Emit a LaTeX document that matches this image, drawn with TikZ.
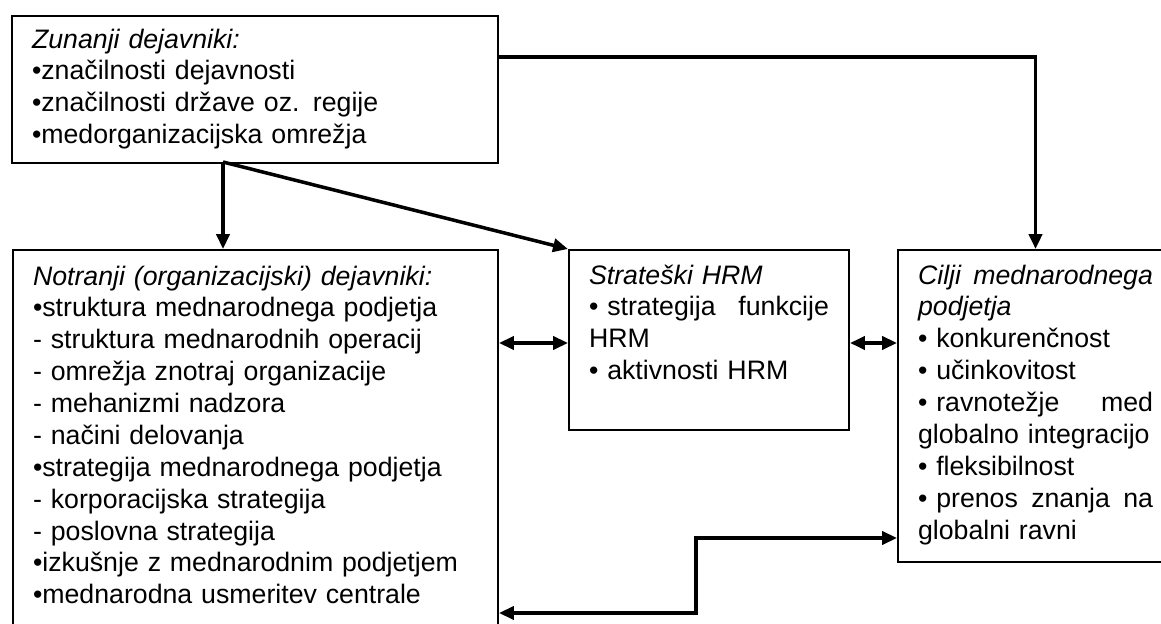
\documentclass[tikz,border=0pt]{standalone}
\usepackage{fontspec}
\setmainfont{Liberation Sans}
\usetikzlibrary{arrows.meta, positioning}

\begin{document}
\begin{tikzpicture}[x=0.02cm, y=-0.02cm,
    font=\fontsize{15.2pt}{18.14pt}\selectfont,
    box/.style={rectangle, draw, line width=1.2pt, anchor=north west, align=left, inner xsep=0.4cm, inner ysep=0pt},
    link/.style={-{Triangle[length=8.5pt, width=7.5pt]}, line width=2pt},
    twoway/.style={{Triangle[length=8.5pt, width=7.5pt]}-{Triangle[length=8.5pt, width=7.5pt]}, line width=2pt}]
    \useasboundingbox (0,0) rectangle (1161,624);
    \clip (0,0) rectangle (1161,624);

    % External factors
    \node[box, text width=8.92cm, text height=0.64cm, text depth=2.3cm] (zunanji) at (11,15)
        {\textit{Zunanji dejavniki:}\\
         •značilnosti dejavnosti\\
         •značilnosti države oz. regije\\
         •medorganizacijska omrežja};

    % Internal factors
    \node[box, text width=8.9cm, text height=0.7cm, text depth=7.12cm] (notranji) at (12,249)
        {\textit{Notranji (organizacijski) dejavniki:}\\
         •struktura mednarodnega podjetja\\
         - struktura mednarodnih operacij\\
         - omrežja znotraj organizacije\\
         - mehanizmi nadzora\\
         - načini delovanja\\
         •strategija mednarodnega podjetja\\
         - korporacijska strategija\\
         - poslovna strategija\\
         •izkušnje z mednarodnim podjetjem\\
         •mednarodna usmeritev centrale};

    % Strategic HRM
    \node[box, text width=4.8cm, text height=0.68cm, text depth=2.92cm] (strateski) at (568,249)
        {\textit{Strateški HRM}\\
         • strategija \hfill funkcije\\
         HRM\\
         • aktivnosti HRM};

    % Goals
    \node[box, text width=4.7cm, text height=0.68cm, text depth=5.56cm] (cilji) at (897,249)
        {\textit{Cilji \hfill mednarodnega}\\
         \textit{podjetja}\\
         • konkurenčnost\\
         • učinkovitost\\
         • ravnotežje \hfill med\\
         globalno integracijo\\
         • fleksibilnost\\
         • prenos \hfill znanja \hfill na\\
         globalni ravni};

    % Connectors
    \coordinate (toprow) at (0,57);
    \coordinate (fork) at (223,162);
    \coordinate (midrow) at (0,343);
    \coordinate (lowrow) at (0,613);
    \coordinate (stepup) at (696,538);

    \draw[link] (zunanji.east |- toprow) -| (cilji.north);
    \draw[link] (fork) -- (fork |- notranji.north);
    \draw[link] (fork) -- (strateski.north west);
    \draw[twoway] (notranji.east |- midrow) -- (strateski.west |- midrow);
    \draw[twoway] (strateski.east |- midrow) -- (cilji.west |- midrow);
    \draw[twoway] (notranji.east |- lowrow) -| (stepup) -- (cilji.west |- stepup);
\end{tikzpicture}
\end{document}
